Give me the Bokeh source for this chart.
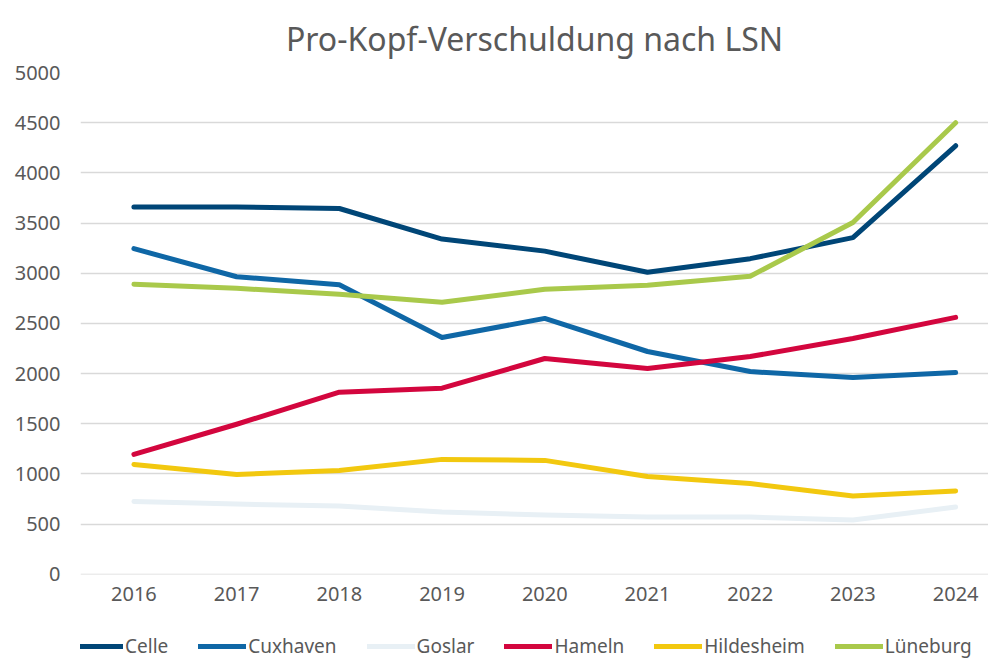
from bokeh.plotting import figure
from bokeh.layouts import column
from bokeh.models import Legend, LegendItem, FixedTicker, ColumnDataSource
from bokeh.embed import file_html
from bokeh.resources import INLINE

years = [2016, 2017, 2018, 2019, 2020, 2021, 2022, 2023, 2024]
celle = [3660, 3660, 3645, 3340, 3220, 3010, 3145, 3355, 4270]
cuxhaven = [3245, 2965, 2885, 2360, 2550, 2220, 2020, 1960, 2010]
goslar = [725, 700, 680, 620, 590, 570, 570, 540, 670]
hameln = [1195, 1495, 1815, 1855, 2150, 2050, 2170, 2350, 2560]
hildesheim = [1095, 995, 1035, 1145, 1135, 975, 905, 780, 830]
lueneburg = [2890, 2850, 2790, 2710, 2840, 2880, 2970, 3505, 4500]

series = [
    ("Celle", celle, "#004677"),
    ("Cuxhaven", cuxhaven, "#0F67A6"),
    ("Goslar", goslar, "#E8F0F5"),
    ("Hameln", hameln, "#D3063E"),
    ("Hildesheim", hildesheim, "#F2C80F"),
    ("Lüneburg", lueneburg, "#A9C94B"),
]
y_ticks = [0, 500, 1000, 1500, 2000, 2500, 3000, 3500, 4000, 4500, 5000]

FONT = "Noto Sans"
p = figure(width=988, height=614, output_backend="svg",
           toolbar_location=None,
           x_range=(2015.48, 2024.32), y_range=(-2, 5000),
           title="Pro-Kopf-Verschuldung nach LSN",
           min_border_left=80, min_border_right=0, min_border_top=72,
           min_border_bottom=40)
p.title.align = "center"
p.title.text_font = FONT
p.title.text_font_size = "32px"
p.title.text_font_style = "normal"
p.title.text_color = "#595959"
p.title.offset = -13
p.title.standoff = 26

p.outline_line_color = None
p.xgrid.grid_line_color = None
p.ygrid.grid_line_color = "#D9D9D9"
p.ygrid.grid_line_width = 1.5
p.yaxis.ticker = FixedTicker(ticks=y_ticks)
p.xaxis.ticker = FixedTicker(ticks=years)
for ax in (p.xaxis, p.yaxis):
    ax.axis_line_color = None
    ax.major_tick_line_color = None
    ax.minor_tick_line_color = None
    ax.major_tick_out = 0
    ax.major_tick_in = 0
    ax.minor_tick_out = 0
    ax.major_label_text_font = FONT
    ax.major_label_text_font_size = "20px"
    ax.major_label_text_color = "#595959"
p.yaxis.major_label_standoff = 20
p.xaxis.major_label_standoff = 12

for name, vals, col in series:
    src = ColumnDataSource(dict(x=years, y=vals))
    p.line("x", "y", source=src, line_color=col, line_width=5,
           line_cap="round", line_join="round")

# legend strip below the chart (its lines lie outside its visible range)
lg = figure(width=988, height=45, output_backend="svg", toolbar_location=None,
            x_range=(0, 1), y_range=(0, 1), x_axis_location=None,
            y_axis_location=None, min_border=0)
lg.outline_line_color = None
lg.grid.grid_line_color = None
items = []
for name, vals, col in series:
    src = ColumnDataSource(dict(x=years, y=vals))
    r = lg.line("x", "y", source=src, line_color=col, line_width=5,
                line_cap="round")
    items.append(LegendItem(label=name, renderers=[r]))
legend = Legend(items=items, orientation="horizontal", location=(-5, 0),
                label_text_font=FONT, label_text_font_size="19px",
                label_text_color="#595959", glyph_width=48, glyph_height=20,
                label_standoff=2, spacing=30, border_line_color=None,
                background_fill_alpha=0, padding=0, margin=0)
lg.add_layout(legend, "center")

open("out.html", "w").write(file_html(column(p, lg, spacing=0), INLINE))
